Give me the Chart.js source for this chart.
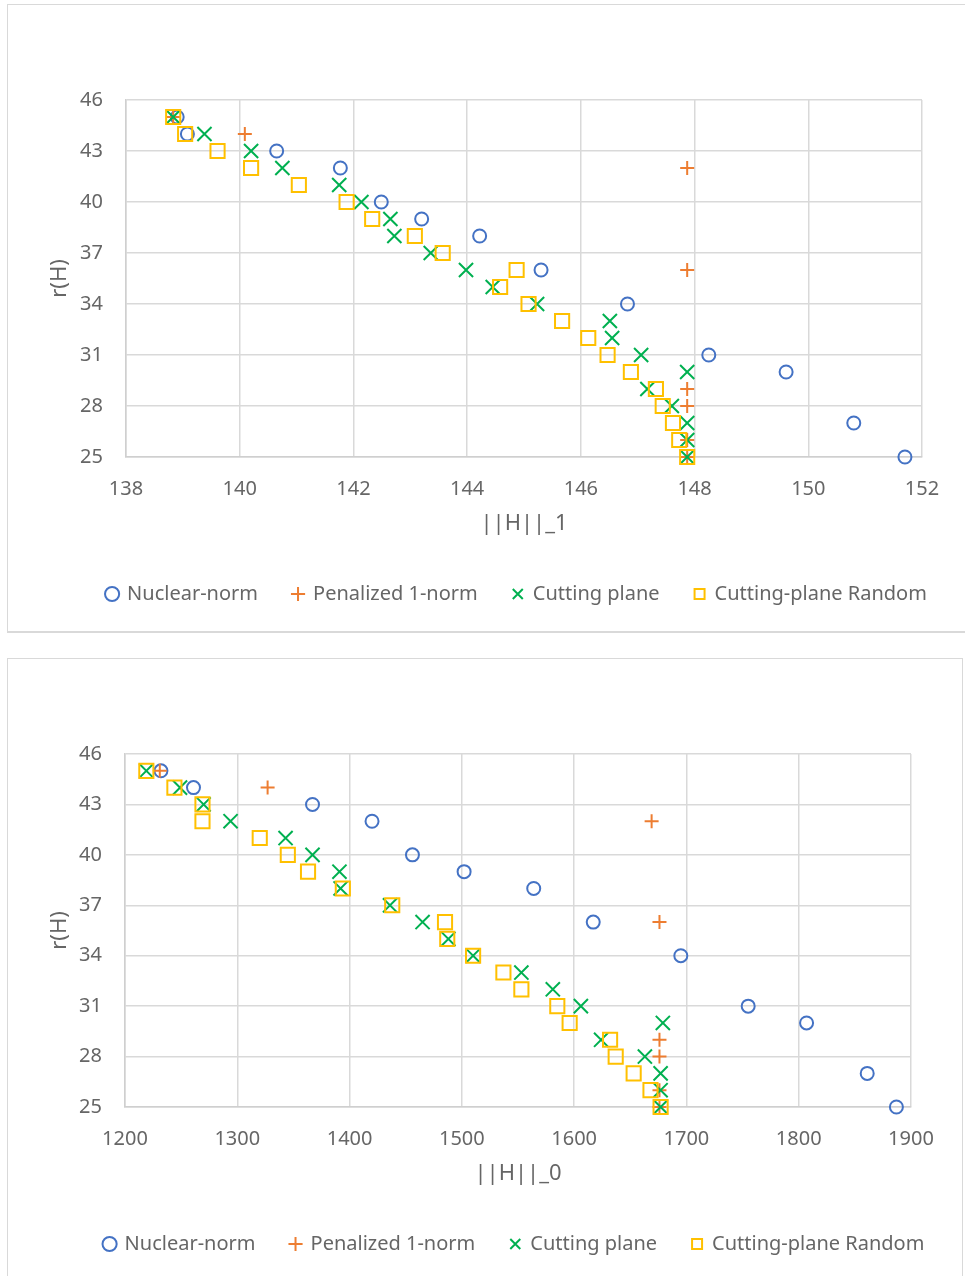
<!DOCTYPE html>
<html>
<head>
<meta charset="utf-8">
<script src="https://cdn.jsdelivr.net/npm/chart.js@4.4.1/dist/chart.umd.min.js"></script>
<style>
  html, body { margin: 0; padding: 0; background: #fff; overflow: hidden; }
  .panel { position: absolute; border: 1px solid #d9d9d9; box-sizing: border-box; background: #fff; }
  #p1 { left: 7px; top: 4px; width: 975px; height: 629px; border-bottom-width: 2px; }
  #p2 { left: 7px; top: 658px; width: 956px; height: 640px; }
  canvas { position: absolute; display: block; }
</style>
</head>
<body>
<div class="panel" id="p1"><canvas id="c1" width="955" height="627" style="left:0;top:0"></canvas></div>
<div class="panel" id="p2"><canvas id="c2" width="954" height="617" style="left:0;top:0"></canvas></div>
<script>
// Series names
const seriesNames = ['Nuclear-norm', 'Penalized 1-norm', 'Cutting plane', 'Cutting-plane Random'];

// Ranks r(H) per series
const rankNuclear   = [45, 44, 43, 42, 40, 39, 38, 36, 34, 31, 30, 27, 25];
const rankPenalized = [45, 44, 42, 36, 29, 28, 26, 25];
const rankCutting   = [45, 44, 43, 42, 41, 40, 39, 38, 37, 36, 35, 34, 33, 32, 31, 30, 29, 28, 27, 26, 25];
const rankRandom    = [45, 44, 43, 42, 41, 40, 39, 38, 37, 36, 35, 34, 33, 32, 31, 30, 29, 28, 27, 26, 25];

// ||H||_1 per series
const l1Nuclear   = [138.9, 139.08, 140.65, 141.77, 142.49, 143.2, 144.22, 145.3, 146.82, 148.25, 149.61, 150.8, 151.7];
const l1Penalized = [138.83, 140.09, 147.87, 147.87, 147.87, 147.87, 147.87, 147.87];
const l1Cutting   = [138.83, 139.38, 140.2, 140.75, 141.75, 142.14, 142.65, 142.72, 143.36, 143.98, 144.45, 145.23, 146.51, 146.55, 147.06, 147.87, 147.17, 147.6, 147.87, 147.87, 147.87];
const l1Random    = [138.83, 139.04, 139.61, 140.2, 141.04, 141.88, 142.33, 143.08, 143.57, 144.87, 144.58, 145.08, 145.67, 146.13, 146.47, 146.88, 147.32, 147.44, 147.62, 147.73, 147.87];

// ||H||_0 per series
const l0Nuclear   = [1232, 1261, 1367, 1420, 1456, 1502, 1564, 1617, 1695, 1755, 1807, 1861, 1887];
const l0Penalized = [1231, 1327, 1669, 1676, 1676, 1676, 1676, 1676];
const l0Cutting   = [1219, 1249, 1270, 1294, 1343, 1367, 1391, 1392, 1436, 1465, 1488, 1510, 1553, 1581, 1606, 1679, 1624, 1663, 1677, 1677, 1677];
const l0Random    = [1219, 1244, 1269, 1269, 1320, 1345, 1363, 1394, 1438, 1485, 1487, 1510, 1537, 1553, 1585, 1596, 1632, 1637, 1653, 1668, 1677];

// Axis ranges / ticks
const rankTicks = { min: 25, max: 46, step: 3 };
const l1Ticks = { min: 138, max: 152, step: 2 };
const l0Ticks = { min: 1200, max: 1900, step: 100 };

const FONT = "'Noto Sans', 'Liberation Sans', sans-serif";
const TEXT = '#666666';
const GRID = '#d9d9d9';

const styles = [
  { pointStyle: 'circle',   color: '#4472C4', radius: 6.5 },
  { pointStyle: 'cross',    color: '#ED7D31', radius: 7 },
  { pointStyle: 'crossRot', color: '#00B050', radius: 10 },
  { pointStyle: 'rect',     color: '#FFC000', radius: 10 }
];

function pairs(xs, ys) { return xs.map((x, i) => ({ x: x, y: ys[i] })); }

// Moves the bottom legend sideways so it sits under the plot
const legendShift = {
  id: 'legendShift',
  afterLayout(chart, args, opts) {
    const lg = chart.legend;
    if (lg && opts.dx) { lg.left += opts.dx; lg.right += opts.dx; }
  }
};

function makeChart(canvasId, xValues, xTicks, xTitle, lay) {
  const ranks = [rankNuclear, rankPenalized, rankCutting, rankRandom];
  const datasets = seriesNames.map((name, i) => ({
    label: name,
    data: pairs(xValues[i], ranks[i]),
    pointStyle: styles[i].pointStyle,
    pointRadius: styles[i].radius,
    pointHoverRadius: styles[i].radius,
    pointBorderWidth: 2,
    pointBorderColor: styles[i].color,
    pointBackgroundColor: 'rgba(0,0,0,0)',
    borderColor: styles[i].color,
    backgroundColor: 'rgba(0,0,0,0)',
    showLine: false,
    clip: false,
    order: 4 - i
  }));

  return new Chart(document.getElementById(canvasId), {
    type: 'scatter',
    data: { datasets: datasets },
    plugins: [legendShift],
    options: {
      responsive: false,
      animation: false,
      devicePixelRatio: 1,
      layout: { padding: { top: lay.top, right: lay.right, bottom: lay.bottom, left: 0 } },
      plugins: {
        tooltip: { enabled: false },
        legendShift: { dx: lay.legendDx },
        legend: {
          position: 'bottom',
          labels: {
            usePointStyle: true,
            boxWidth: 10,
            boxHeight: 10,
            padding: 35,
            color: TEXT,
            font: { family: FONT, size: 20 },
            sort: (a, b) => a.datasetIndex - b.datasetIndex
          }
        }
      },
      scales: {
        x: {
          type: 'linear',
          min: xTicks.min,
          max: xTicks.max,
          afterFit: s => { s.height = 92; },
          ticks: { stepSize: xTicks.step, padding: 20, color: TEXT, font: { family: FONT, size: 20 }, maxRotation: 0,
                   callback: v => String(v) },
          grid: { color: GRID, lineWidth: 1.5, drawTicks: false },
          border: { color: '#cfcfcf', width: 1.5 },
          title: { display: true, text: xTitle, color: TEXT, font: { family: FONT, size: 22 }, padding: { top: 0, bottom: 12 } }
        },
        y: {
          type: 'linear',
          min: rankTicks.min,
          max: rankTicks.max,
          afterFit: s => { s.width = lay.left; },
          ticks: { stepSize: rankTicks.step, padding: 23, color: TEXT, font: { family: FONT, size: 20 },
                   callback: v => String(v) },
          grid: { color: GRID, lineWidth: 1.5, drawTicks: false },
          border: { color: '#cfcfcf', width: 1.5 },
          title: { display: true, text: 'r(H)', color: TEXT, font: { family: FONT, size: 22 }, padding: { top: 39, bottom: 0 } }
        }
      }
    }
  });
}

makeChart('c1', [l1Nuclear, l1Penalized, l1Cutting, l1Random], l1Ticks, '||H||_1',
          { top: 95, right: 41, bottom: 18, left: 118, legendDx: 52 });
makeChart('c2', [l0Nuclear, l0Penalized, l0Cutting, l0Random], l0Ticks, '||H||_0',
          { top: 95, right: 51, bottom: 12, left: 117, legendDx: 55 });
</script>
</body>
</html>
